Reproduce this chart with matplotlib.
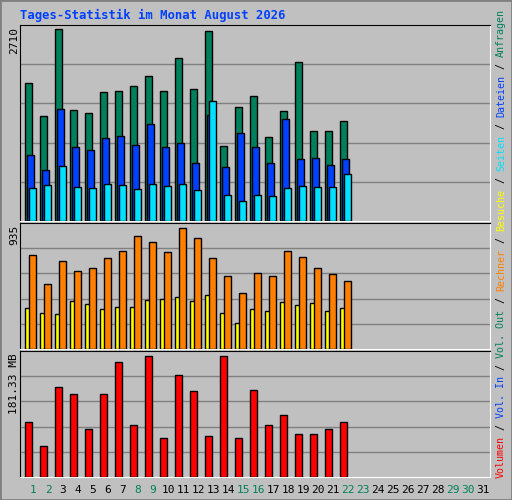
import numpy as np
import matplotlib
matplotlib.use("Agg")
import matplotlib.pyplot as plt
from matplotlib.patches import Rectangle

# ── data ──
days = np.arange(1, 32)
weekend = [1, 2, 8, 9, 15, 16, 22, 23, 29, 30]
hits = [1944, 1476, 2710, 1561, 1518, 1816, 1830, 1901, 2043, 1830, 2299,
        1859, 2682, 1064, 1603, 1760, 1192, 1547, 2242, 1277, 1277, 1405]
files = [937, 724, 1575, 1050, 1007, 1178, 1206, 1078, 1376, 1050, 1107,
         823, 1490, 766, 1249, 1050, 823, 1433, 880, 894, 795, 880]
pages = [468, 511, 780, 482, 468, 525, 511, 454, 525, 497, 525,
         440, 1689, 369, 284, 369, 355, 468, 497, 482, 482, 667]
visits = [319, 280, 273, 374, 351, 312, 327, 327, 382, 390, 405,
          374, 421, 280, 203, 312, 296, 366, 343, 358, 296, 319]
sites = [725, 499, 678, 600, 623, 701, 756, 873, 826, 748, 935,
         857, 701, 561, 436, 584, 561, 756, 709, 623, 577, 522]
volume = [83.1, 46.8, 134.5, 123.9, 72.5, 123.9, 172.3, 78.6, 181.3, 58.9, 152.6,
          128.4, 62.0, 181.3, 58.9, 130.0, 78.6, 92.2, 65.0, 65.0, 72.5, 83.1]

GREEN, BLUE, CYAN = '#00805C', '#0040FF', '#00E0FF'
ORANGE, YELLOW, RED = '#FF8000', '#FFFF00', '#FF0000'
BG = '#C0C0C0'
W, H = 512, 500
MONO = 'DejaVu Sans Mono'

fig = plt.figure(figsize=(W / 100, H / 100), dpi=100, facecolor=BG)
fig.patches.append(Rectangle((0, 0), 1, 1, transform=fig.transFigure,
                             fill=False, edgecolor='#808080', linewidth=2))


def panel(top, bottom, vmax, top_px):
    # pixel box -> axes; bar of vmax reaches top_px
    ax = fig.add_axes([20 / W, 1 - bottom / H, 470 / W, (bottom - top) / H])
    ax.set_facecolor(BG)
    ymax = vmax * (bottom - top) / (bottom - top_px)
    ax.set_ylim(0, ymax)
    ax.set_xlim(0, 470)
    for f in (0.2, 0.4, 0.6, 0.8):
        ax.axhline(f * ymax, color='#808080', linewidth=1, zorder=0)
    ax.set_xticks([])
    ax.set_yticks([])
    for s in ax.spines.values():
        s.set_color('black')
    ax.spines['bottom'].set_color('white')
    ax.spines['right'].set_color('white')
    return ax


def bars(ax, vals, off, w, color):
    x = 15 * np.arange(len(vals)) + off
    ax.bar(x, vals, width=w, align='edge', color=color, edgecolor='black',
           linewidth=1, zorder=3)


# (a) Anfragen / Dateien / Seiten
ax1 = panel(25, 221, max(hits), 29)
bars(ax1, hits, 5, 7, GREEN)
bars(ax1, files, 7, 7, BLUE)
bars(ax1, pages, 9, 7, CYAN)

# (b) Besuche / Rechner
ax2 = panel(223, 349, max(sites), 228)
bars(ax2, visits, 5, 5, YELLOW)
bars(ax2, sites, 9, 7, ORANGE)

# (c) Volumen
ax3 = panel(351, 477, max(volume), 356)
bars(ax3, volume, 5, 7, RED)

# title & axis max labels
fig.text(20 / W, 1 - 15 / H, 'Tages-Statistik im Monat August 2026', color='#0040FF',
         family=MONO, fontweight='bold', fontsize=8.8, va='center', ha='left')
for txt, ytop in (('2710', 27), ('935', 225), ('181.33 MB', 353)):
    fig.text(14 / W, 1 - ytop / H, txt, rotation=90, family=MONO, fontsize=8,
             va='top', ha='center')

# day labels
for d in days:
    fig.text((33 + 15 * (d - 1)) / W, 1 - 490 / H, str(d), family=MONO, fontsize=8,
             ha='center', va='center', color=GREEN if d in weekend else 'black')

# right legend, bottom to top
parts = [('Volumen', RED), (' / ', 'black'), ('Vol. In', BLUE), (' / ', 'black'),
         ('Vol. Out', GREEN), (' / ', 'black'), ('Rechner', ORANGE), (' / ', 'black'),
         ('Besuche', YELLOW), (' / ', 'black'), ('Seiten', CYAN), (' / ', 'black'),
         ('Dateien', BLUE), (' / ', 'black'), ('Anfragen', GREEN)]
fs = 7.2
step = fs * 100 / 72 * 0.602
y = 478
for txt, c in parts:
    fig.text(501 / W, 1 - y / H, txt, rotation=90, family=MONO, fontsize=fs,
             color=c, ha='center', va='bottom')
    y -= step * len(txt)

fig.savefig('out.png', dpi=100, facecolor=BG)
